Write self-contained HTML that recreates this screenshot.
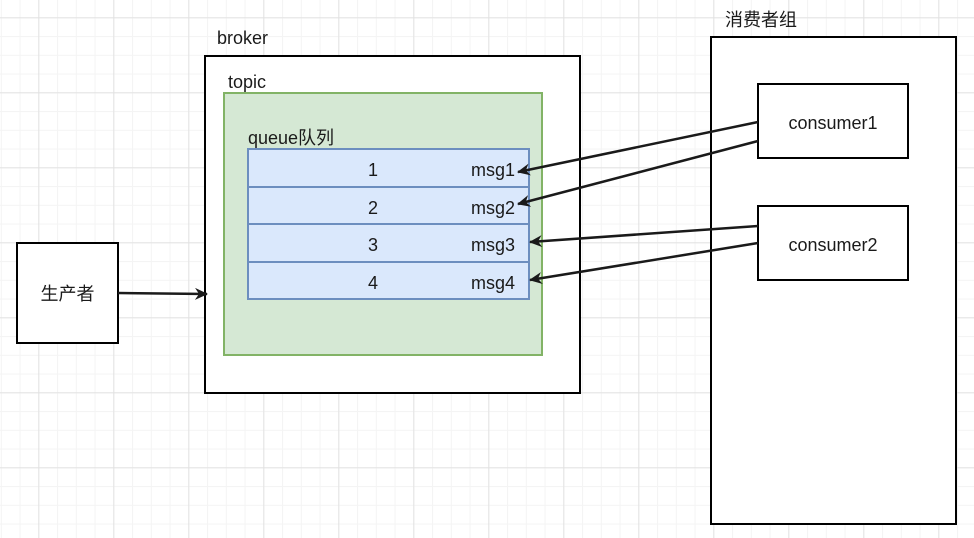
<!DOCTYPE html>
<html><head><meta charset="utf-8"><style>body{margin:0;background:#fff}svg{display:block}text{font-family:"Liberation Sans","Noto Sans CJK SC",sans-serif;font-size:18px;fill:#1a1a1a}</style></head><body>
<svg width="974" height="538" xmlns="http://www.w3.org/2000/svg">
<defs>
<pattern id="mi" x="0.8" y="-1.45" width="18.75" height="18.75" patternUnits="userSpaceOnUse"><path d="M0.5 0V18.75M0 0.5H18.75" stroke="#f4f4f4" stroke-width="1" fill="none"/></pattern>
<pattern id="ma" x="38.3" y="17.3" width="75" height="75" patternUnits="userSpaceOnUse"><path d="M0.5 0V75M0 0.5H75" stroke="#e2e2e2" stroke-width="1" fill="none"/></pattern>
<marker id="ar" markerWidth="14" markerHeight="14" refX="12" refY="6" orient="auto" markerUnits="userSpaceOnUse"><path d="M0 0L13 6L0 12L4 6Z" fill="#1a1a1a"/></marker>
</defs>
<rect width="974" height="538" fill="url(#mi)"/>
<rect width="974" height="538" fill="url(#ma)"/>
<rect x="17" y="243" width="101" height="100" fill="#fff" stroke="#000" stroke-width="2"/>
<text x="67.5" y="300" text-anchor="middle">生产者</text>
<rect x="205" y="56" width="375" height="337" fill="#fff" stroke="#000" stroke-width="2"/>
<text x="217" y="44">broker</text>
<rect x="224" y="93" width="318" height="262" fill="#d5e8d4" stroke="#82b366" stroke-width="2"/>
<text x="228" y="88">topic</text>
<text x="248" y="144">queue队列</text>
<g fill="#dae8fc" stroke="#6c8ebf" stroke-width="2">
<rect x="248" y="149" width="281" height="38"/><rect x="248" y="187" width="281" height="37"/><rect x="248" y="224" width="281" height="38"/><rect x="248" y="262" width="281" height="37"/></g>
<g text-anchor="middle"><text x="373" y="176">1</text><text x="373" y="214">2</text><text x="373" y="251">3</text><text x="373" y="289">4</text>
<text x="493" y="176">msg1</text><text x="493" y="214">msg2</text><text x="493" y="251">msg3</text><text x="493" y="289">msg4</text></g>
<rect x="711" y="37" width="245" height="487" fill="#fff" stroke="#000" stroke-width="2"/>
<text x="725" y="26">消费者组</text>
<rect x="758" y="84" width="150" height="74" fill="#fff" stroke="#000" stroke-width="2"/>
<text x="833" y="129" text-anchor="middle">consumer1</text>
<rect x="758" y="206" width="150" height="74" fill="#fff" stroke="#000" stroke-width="2"/>
<text x="833" y="251" text-anchor="middle">consumer2</text>
<g stroke="#1a1a1a" stroke-width="2.5" marker-end="url(#ar)">
<line x1="118" y1="293" x2="207" y2="294"/>
<line x1="758" y1="122" x2="518" y2="172"/>
<line x1="758" y1="141" x2="518" y2="204"/>
<line x1="758" y1="226" x2="530" y2="242"/>
<line x1="758" y1="243" x2="530" y2="280"/>
</g>
</svg>
</body></html>
